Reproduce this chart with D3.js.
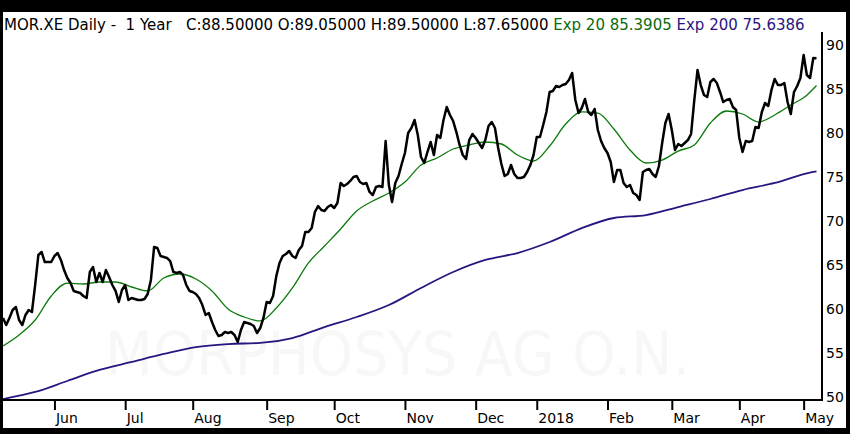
<!DOCTYPE html>
<html>
<head>
<meta charset="utf-8">
<script src="https://cdn.jsdelivr.net/npm/d3@7"></script>
<style>
  html, body { margin: 0; padding: 0; background: #000; }
  svg { display: block; }
  text { font-family: "DejaVu Sans", Verdana, sans-serif; }
</style>
</head>
<body>
<svg id="chart" width="850" height="434"></svg>
<script>
// ---------- DATA ----------
const title = "MOR.XE Daily -  1 Year";
const ohlcLabel = "C:88.50000 O:89.05000 H:89.50000 L:87.65000";
const ema20Label = "Exp 20 85.3905";
const ema200Label = "Exp 200 75.6386";
const watermark = "MORPHOSYS AG O.N.";

const firstDate = "2017-05-10";
const holidays = ["2017-12-25", "2017-12-26", "2018-01-01", "2018-03-30", "2018-04-02", "2018-05-01"];

// Daily closes (one per trading day)
const closes = [
  58.98, 58.18, 58.98, 59.89, 60.23, 58.75, 58.18, 59.32, 59.89, 59.66,
  62.73, 66.14, 66.48, 65.34, 65.34, 65.34, 66.02, 66.36, 65.57, 64.43,
  63.52, 62.95, 62.05, 61.93, 61.82, 61.48, 61.25, 64.20, 64.77, 63.07,
  64.09, 63.07, 64.43, 63.64, 62.73, 62.05, 60.80, 62.16, 62.73, 61.02,
  61.25, 61.14, 61.02, 61.02, 61.14, 61.70, 63.30, 67.05, 66.93, 66.02,
  65.91, 65.80, 65.45, 64.20, 64.09, 64.20, 63.86, 62.73, 62.05, 61.93,
  61.70, 61.25, 60.45, 59.32, 59.55, 58.52, 57.61, 56.93, 57.05, 57.39,
  57.27, 57.39, 57.05, 56.25, 57.61, 58.52, 58.41, 58.30, 58.07, 57.27,
  57.84, 58.98, 60.80, 60.68, 61.48, 63.75, 65.23, 66.02, 66.25, 66.59,
  66.02, 65.80, 66.70, 67.16, 68.75, 68.75, 69.20, 71.02, 71.70, 71.25,
  71.14, 71.59, 71.82, 71.48, 72.05, 74.32, 73.98, 74.20, 74.55, 75.00,
  75.11, 74.43, 74.20, 74.32, 73.30, 72.95, 73.86, 73.98, 73.86, 79.09,
  74.09, 72.16, 74.32, 75.11, 76.48, 77.73, 80.00, 80.57, 81.48, 79.77,
  77.27, 76.59, 77.84, 78.98, 77.50, 79.77, 79.43, 81.48, 82.95, 82.05,
  81.36, 80.11, 78.64, 77.50, 77.05, 79.20, 79.89, 79.43, 78.86, 78.30,
  79.20, 80.80, 81.25, 80.57, 78.30, 76.48, 75.11, 75.34, 76.36, 75.34,
  74.89, 74.89, 75.00, 75.57, 76.36, 77.50, 79.55, 79.55, 80.91, 82.39,
  84.66, 84.77, 85.34, 85.23, 85.45, 85.57, 86.02, 86.82, 83.75, 82.27,
  82.84, 83.86, 82.39, 82.05, 82.73, 80.34, 79.09, 78.30, 77.73, 76.70,
  74.43, 75.80, 75.80, 74.32, 73.86, 74.09, 73.18, 72.95, 72.39, 75.57,
  75.80, 75.91, 75.34, 75.00, 76.25, 78.86, 81.14, 82.16, 80.34, 78.07,
  78.75, 78.52, 78.86, 79.20, 79.89, 83.75, 87.16, 85.45, 84.32, 84.09,
  85.80, 86.14, 85.68, 84.66, 83.52, 83.75, 83.86, 82.95, 82.61, 79.43,
  77.84, 79.09, 78.98, 79.09, 80.68, 80.57, 82.39, 83.41, 83.07, 84.89,
  86.14, 85.45, 85.45, 85.68, 83.52, 82.16, 84.66, 85.34, 86.25, 88.86,
  86.59, 86.25, 88.52, 88.50
];

// 20-day exponential average, read every 5 trading days (last = final day)
const ema20 = [
  55.80, 57.05, 58.75, 61.48, 62.95, 62.84, 63.07, 63.07, 62.50, 62.05,
  63.52, 63.98, 63.41, 62.05, 60.00, 59.09, 58.64, 60.11, 62.39, 65.23,
  67.16, 69.09, 71.14, 72.27, 73.18, 74.43, 76.36, 77.16, 78.18, 78.64,
  78.98, 78.75, 77.50, 76.82, 78.52, 81.02, 82.39, 82.27, 80.45, 78.07,
  76.59, 76.93, 77.95, 78.64, 81.14, 82.50, 82.16, 81.25, 82.05, 83.18,
  84.30, 85.39
];
const ema20Step = 5;

// 200-day exponential average, read every 10 trading days (last = final day)
const ema200 = [
  49.77, 50.57, 51.82, 53.07, 53.98, 54.89, 55.68, 56.02, 56.14, 56.70,
  57.95, 59.09, 60.45, 62.39, 64.20, 65.57, 66.36, 67.61, 69.20, 70.34,
  70.68, 71.59, 72.50, 73.52, 74.32, 75.42, 75.64
];
const ema200Step = 10;

const yTicks = [50, 55, 60, 65, 70, 75, 80, 85, 90];

// ---------- BUILD ----------
const parse = d3.timeParse("%Y-%m-%d");
const fmtKey = d3.timeFormat("%Y-%m-%d");
const holidaySet = new Set(holidays);
const dates = [];
let d = parse(firstDate);
while (dates.length < closes.length) {
  const wd = d.getDay();
  if (wd !== 0 && wd !== 6 && !holidaySet.has(fmtKey(d))) dates.push(new Date(d));
  d = d3.timeDay.offset(d, 1);
}
const n = closes.length;
const seriesIdx = (arr, step) => arr.map((v, k) => ({ i: k === arr.length - 1 ? n - 1 : k * step, v }));

const svg = d3.select("#chart");
const W = 850, H = 434;
const plot = { left: 3, right: 816.5, top: 45, bottom: 397 };

const x = d3.scaleLinear().domain([0, n - 1]).range([plot.left, plot.right]);
const y = d3.scaleLinear().domain([50, 90]).range([plot.bottom, plot.top]);

// frame
svg.append("rect").attr("x", 0).attr("y", 0).attr("width", W).attr("height", H).attr("fill", "#000");
svg.append("rect").attr("x", 3).attr("y", 12).attr("width", 843).attr("height", 416).attr("fill", "#fff");

// watermark
svg.append("text")
  .attr("x", 105).attr("y", 375)
  .attr("textLength", 585).attr("lengthAdjust", "spacingAndGlyphs")
  .attr("font-size", 60)
  .attr("fill", "#f7f7f7")
  .text(watermark);

// header
const header = svg.append("text")
  .attr("x", 4).attr("y", 30)
  .attr("font-size", 15)
  .attr("xml:space", "preserve")
  .style("white-space", "pre");
header.append("tspan").attr("fill", "#000").text(title + "   " + ohlcLabel + " ");
header.append("tspan").attr("fill", "#0b6b0b").text(ema20Label + " ");
header.append("tspan").attr("fill", "#2a1580").text(ema200Label);

// lines
const lineIdx = d3.line().x(p => x(p.i)).y(p => y(p.v));
const smooth = d3.line().x(p => x(p.i)).y(p => y(p.v)).curve(d3.curveMonotoneX);

svg.append("path")
  .datum(seriesIdx(ema200, ema200Step))
  .attr("d", smooth)
  .attr("fill", "none").attr("stroke", "#2a1580").attr("stroke-width", 1.8);

svg.append("path")
  .datum(seriesIdx(ema20, ema20Step))
  .attr("d", smooth)
  .attr("fill", "none").attr("stroke", "#0b7a0b").attr("stroke-width", 1.3);

svg.append("path")
  .datum(closes.map((v, i) => ({ i, v })))
  .attr("d", lineIdx)
  .attr("fill", "none").attr("stroke", "#000").attr("stroke-width", 2.5)
  .attr("stroke-linejoin", "round");

// axes
const axisX = 400, axisRight = 822;
svg.append("line").attr("x1", 3).attr("x2", axisRight + 1).attr("y1", axisX).attr("y2", axisX)
  .attr("stroke", "#000").attr("stroke-width", 2);
svg.append("line").attr("x1", axisRight).attr("x2", axisRight).attr("y1", 32).attr("y2", axisX)
  .attr("stroke", "#000").attr("stroke-width", 2);

// right y labels
const yAxis = d3.axisRight(y).tickValues(yTicks).tickSize(0).tickPadding(0);
const gy = svg.append("g").attr("transform", `translate(${axisRight + 4},0)`).call(yAxis);
gy.select(".domain").remove();
gy.selectAll("text").attr("font-size", 14).attr("fill", "#000")
  .attr("font-family", "DejaVu Sans, Verdana, sans-serif").attr("text-anchor", "start");

// month ticks
const monthTicks = [];
for (let i = 1; i < n; i++) {
  if (dates[i].getMonth() !== dates[i - 1].getMonth()) monthTicks.push(i);
}
const fmtMon = d3.timeFormat("%b");
const xAxis = d3.axisBottom(x).tickValues(monthTicks).tickSize(10).tickPadding(0)
  .tickFormat(i => dates[i].getMonth() === 0 ? String(dates[i].getFullYear()) : fmtMon(dates[i]));
const gx = svg.append("g").attr("transform", `translate(0,${axisX})`).call(xAxis);
gx.select(".domain").remove();
gx.selectAll(".tick line").attr("stroke", "#000").attr("stroke-width", 2);
gx.selectAll(".tick text").attr("font-size", 14).attr("fill", "#000")
  .attr("font-family", "DejaVu Sans, Verdana, sans-serif")
  .attr("text-anchor", "start").attr("x", 1).attr("y", 13).attr("dy", "0.71em");
</script>
</body>
</html>
